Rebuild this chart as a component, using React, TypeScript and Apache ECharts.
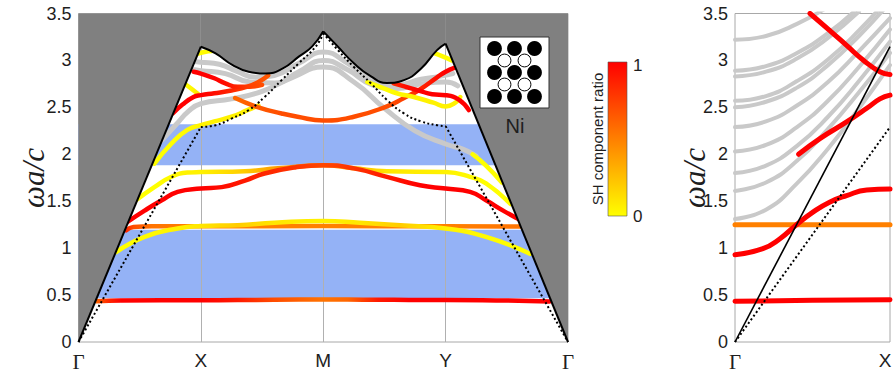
import React, { useEffect, useRef } from 'react';
import * as echarts from 'echarts';

// ---------- axes ----------
const kTicks = [0, 1, 2, 3, 4];
const kLabels = ['Γ', 'X', 'M', 'Y', 'Γ'];
const rightTicks = [0, 1];
const rightLabels = ['Γ', 'X'];
const wMin = 0;
const wMax = 3.5;
const wStep = 0.5;

// ---------- band gaps (blue) ----------
const gapLow = [0.467, 1.197];
const gapHigh = [1.884, 2.32];

// ---------- light line (boundary of gray region) ----------
const lightGX = [[0, 0], [1, 3.146]];
const lightXM = [[1, 3.146], [1.12, 3.075], [1.26, 2.95], [1.39, 2.88], [1.53, 2.86], [1.67, 2.915], [1.8, 3.04], [1.91, 3.15], [2, 3.31]];
const lightMY = [[2, 3.31], [2.12, 3.146], [2.25, 2.97], [2.39, 2.83], [2.52, 2.76], [2.66, 2.79], [2.8, 2.915], [2.93, 3.11], [3, 3.18]];
const lightYG = [[3, 3.18], [4, 0]];

// ---------- dotted line ----------
const dotGX = [[0, 0], [1, 2.29]];
const dotXM = [[1, 2.29], [1.12, 2.31], [1.25, 2.38], [1.39, 2.47], [1.52, 2.61], [1.66, 2.79], [1.8, 2.97], [1.94, 3.15], [2, 3.29]];
const dotMY = [[2, 3.29], [2.12, 3.11], [2.25, 2.93], [2.39, 2.755], [2.52, 2.58], [2.66, 2.435], [2.8, 2.35], [2.93, 2.31], [3, 2.3]];
const dotYG = [[3, 2.3], [4, 0]];

// ---------- left panel: non-SH (gray) bands ----------
const grayA = [[0.93, 2.99], [1, 2.98], [1.15, 2.96], [1.3, 2.88], [1.45, 2.82], [1.6, 2.84], [1.8, 2.97], [2, 3.09], [2.2, 2.97], [2.4, 2.79], [2.6, 2.74], [2.8, 2.8], [2.95, 2.83], [3.06, 2.86]];
const grayB = [[0.95, 2.9], [1, 2.89], [1.2, 2.86], [1.4, 2.77], [1.6, 2.76], [1.8, 2.88], [2, 3.0], [2.2, 2.9], [2.4, 2.74], [2.6, 2.7], [2.8, 2.75], [3, 2.77], [3.1, 2.73]];
const grayC = [[0.68, 2.15], [0.8, 2.32], [0.9, 2.46], [1, 2.54], [1.25, 2.59], [1.5, 2.67], [1.75, 2.82], [2, 2.93], [2.25, 2.77], [2.5, 2.49], [2.75, 2.25], [3, 2.11], [3.15, 2.05], [3.25, 1.98]];

// ---------- left panel: SH bands [k, ωa/c, SH ratio] ----------
const bandLowRed = [[0.145, 0.435, 0.6], [0.25, 0.44, 0.85], [0.35, 0.442, 1], [1, 0.445, 1], [1.3, 0.447, 0.9], [1.6, 0.45, 0.7], [2, 0.452, 0.55], [2.2, 0.452, 0.6], [2.45, 0.45, 0.9], [2.7, 0.448, 1], [3.3, 0.445, 1], [3.85, 0.432, 1]];
const bandFlatOrange = [[0.39, 1.19, 0.85], [0.45, 1.225, 0.7], [0.6, 1.233, 0.55], [1, 1.233, 0.5], [2, 1.235, 0.5], [3, 1.233, 0.5], [3.61, 1.23, 0.55]];
const bandCrossYellow = [[0.31, 0.96, 0], [0.54, 1.12, 0.02], [0.81, 1.21, 0.05], [1, 1.235, 0.1], [1.3, 1.245, 0.2], [1.6, 1.27, 0.1], [2, 1.29, 0.05], [2.3, 1.27, 0.1], [2.63, 1.243, 0.2], [3, 1.21, 0.05], [3.33, 1.12, 0.02], [3.69, 0.94, 0]];
const bandMidRed = [[0.4, 1.28, 1], [0.54, 1.4, 1], [0.68, 1.51, 1], [0.81, 1.6, 1], [1, 1.635, 1], [1.17, 1.65, 0.95], [1.36, 1.72, 0.9], [1.52, 1.795, 0.85], [1.77, 1.86, 0.8], [2, 1.884, 0.72], [2.25, 1.85, 0.8], [2.52, 1.76, 0.9], [2.79, 1.67, 1], [3, 1.635, 1], [3.2, 1.6, 1], [3.33, 1.51, 1], [3.47, 1.4, 1], [3.61, 1.3, 1]];
const bandMidYellow = [[0.47, 1.51, 0], [0.62, 1.65, 0], [0.76, 1.76, 0.02], [0.89, 1.805, 0.05], [1, 1.81, 0.05], [1.36, 1.82, 0.2], [1.63, 1.85, 0.4], [2, 1.884, 0.55], [2.25, 1.85, 0.3], [2.52, 1.82, 0.1], [3, 1.81, 0.05], [3.2, 1.76, 0.02], [3.33, 1.69, 0], [3.53, 1.47, 0]];
const bandUpperYellow = [[0.62, 1.9, 0], [0.76, 2.115, 0], [0.89, 2.26, 0.02], [1, 2.31, 0.05], [1.11, 2.35, 0.05], [1.25, 2.4, 0.05], [1.38, 2.47, 0.05], [1.47, 2.52, 0.1]];
const bandUpperOrange = [[1.28, 2.6, 0.6], [1.47, 2.5, 0.65], [1.66, 2.435, 0.7], [1.79, 2.4, 0.7], [2, 2.36, 0.7], [2.25, 2.4, 0.7], [2.52, 2.51, 0.7], [2.66, 2.6, 0.75], [2.79, 2.69, 0.85], [2.93, 2.82, 0.95], [3, 2.88, 1], [3.07, 2.92, 1]];
const bandDipRed = [[2.575, 2.755, 0.85], [2.67, 2.72, 0.95], [2.78, 2.68, 1], [2.89, 2.64, 1], [3, 2.63, 1], [3.11, 2.58, 1], [3.19, 2.47, 1]];
const bandDipYellow = [[2.36, 2.77, 0], [2.5, 2.7, 0], [2.6, 2.65, 0.02], [2.74, 2.61, 0.05], [2.9, 2.55, 0.05], [3, 2.51, 0.05], [3.08, 2.55, 0.05], [3.12, 2.61, 0.05]];
const bandTopYellowY = [[2.9, 3.08, 0], [2.98, 3.04, 0.02], [3.05, 3.0, 0]];
const bandTopYellowX = [[0.97, 3.07, 0], [1.03, 3.09, 0.02], [1.09, 3.1, 0]];
const bandShortYellowX = [[0.86, 2.76, 0], [0.92, 2.7, 0.02], [0.98, 2.64, 0.1]];
const bandRedX1 = [[0.94, 2.88, 1], [1, 2.86, 1], [1.11, 2.81, 1], [1.2, 2.755, 0.95], [1.3, 2.72, 0.85], [1.4, 2.72, 0.75], [1.5, 2.74, 0.7]];
const bandRedX2 = [[0.77, 2.435, 1], [0.85, 2.53, 1], [0.94, 2.61, 1], [1, 2.63, 1], [1.11, 2.65, 0.95], [1.25, 2.68, 0.85], [1.38, 2.72, 0.75], [1.47, 2.77, 0.7], [1.55, 2.84, 0.65]];
const bandTailYellow = [[3.22, 2.0, 0], [3.33, 1.88, 0], [3.46, 1.7, 0]];

// ---------- right panel ----------
const rLight = [[0, 0], [1, 3.146]];
const rDot = [[0, 0], [1, 2.29]];
const rGray1 = [[0, 1.31], [0.2, 1.41], [0.4, 1.69], [0.6, 2.06], [0.8, 2.49], [1, 2.95]];
const rGray2 = [[0, 1.61], [0.2, 1.7], [0.4, 1.93], [0.6, 2.27], [0.8, 2.66], [1, 3.08]];
const rGray3 = [[0, 1.8], [0.2, 1.88], [0.4, 2.09], [0.6, 2.4], [0.8, 2.78], [1, 3.2]];
const rGray4 = [[0, 2.03], [0.2, 2.1], [0.4, 2.29], [0.6, 2.57], [0.8, 2.93], [1, 3.33]];
const rGray5 = [[0, 2.29], [0.2, 2.35], [0.4, 2.52], [0.6, 2.77], [0.8, 3.1], [1, 3.45]];
const rGray6 = [[0, 2.5], [0.2, 2.56], [0.4, 2.71], [0.6, 2.95], [0.8, 3.26], [1, 3.62]];
const rGray7 = [[0, 2.57], [0.2, 2.62], [0.4, 2.78], [0.6, 3.01], [0.8, 3.32], [1, 3.68]];
const rGray8 = [[0, 2.83], [0.2, 2.88], [0.4, 3.02], [0.6, 3.24], [0.8, 3.52]];
const rGray9 = [[0, 2.89], [0.2, 2.94], [0.4, 3.08], [0.6, 3.29], [0.8, 3.57]];
const rGray10 = [[0, 3.22], [0.2, 3.26], [0.4, 3.39], [0.6, 3.57]];
const rLowRed = [[0, 0.434, 1], [0.5, 0.445, 1], [1, 0.451, 1]];
const rFlatOrange = [[0, 1.25, 0.5], [0.5, 1.25, 0.5], [1, 1.25, 0.5]];
const rMidRed = [[0, 0.93, 1], [0.18, 0.995, 1], [0.29, 1.1, 1], [0.39, 1.24, 1], [0.505, 1.386, 1], [0.61, 1.49, 1], [0.72, 1.56, 1], [0.85, 1.62, 1], [1, 1.63, 1]];
const rUpRed = [[0.41, 2.0, 1], [0.55, 2.17, 1], [0.72, 2.345, 1], [0.85, 2.49, 1], [0.935, 2.59, 1], [1, 2.63, 1]];
const rTopRed = [[0.484, 3.5, 1], [0.61, 3.32, 1], [0.72, 3.16, 1], [0.83, 3.0, 1], [0.935, 2.88, 1], [1, 2.85, 1]];

// ---------- styles ----------
const GRAY_FILL = '#808080';
const BLUE = '#94b2f6';
const CURVE_GRAY = '#c9c9c9';
const TEXT = '#1e1e1e';
const SANS = '"Liberation Sans", Arial, Helvetica, sans-serif';
const SERIF = '"Liberation Serif", "Times New Roman", serif';
const SMOOTH = 0.5;

const ratioColor = (r: number) => `rgb(255,${Math.round(255 * (1 - r))},0)`;

function coloredLine(pts: number[][], gi: number, width: number, z: number) {
  const ks = pts.map((p) => p[0]);
  const kmin = Math.min(...ks);
  const kmax = Math.max(...ks);
  const rs = pts.map((p) => p[2]);
  const constant = rs.every((r) => r === rs[0]);
  const color = constant
    ? ratioColor(rs[0])
    : new echarts.graphic.LinearGradient(
        0, 0, 1, 0,
        pts.map((p) => ({ offset: (p[0] - kmin) / (kmax - kmin), color: ratioColor(p[2]) }))
      );
  return {
    type: 'line',
    xAxisIndex: gi,
    yAxisIndex: gi,
    data: pts.map((p) => [p[0], p[1]]),
    smooth: SMOOTH,
    showSymbol: false,
    silent: true,
    z,
    lineStyle: { width, color, cap: 'round', join: 'round' },
  };
}

function plainLine(pts: number[][], gi: number, opts: any) {
  return {
    type: 'line',
    xAxisIndex: gi,
    yAxisIndex: gi,
    data: pts,
    smooth: opts.smooth ?? 0,
    showSymbol: false,
    silent: true,
    z: opts.z,
    lineStyle: opts.lineStyle,
    areaStyle: opts.areaStyle,
  };
}

const tickLabel = (ticks: number[], labels: string[], shiftLast: boolean) => (v: number) => {
  const i = ticks.findIndex((t) => Math.abs(t - v) < 1e-9);
  if (i < 0) return '';
  const t = labels[i];
  if (t === 'Γ') return `{g|${t}}`;
  if (shiftLast && i === ticks.length - 1) return `{e|${t}}`;
  return `{s|${t}}`;
};

const xLabelRich = {
  g: { fontFamily: SERIF, fontSize: 21, color: TEXT },
  s: { fontFamily: SANS, fontSize: 19, color: TEXT },
  e: { fontFamily: SANS, fontSize: 19, color: TEXT, padding: [0, 10, 0, 0] },
};

export default function App() {
  const ref = useRef<HTMLDivElement>(null);

  useEffect(() => {
    if (!ref.current) return;
    const chart = echarts.init(ref.current, undefined, { renderer: 'svg' });

    const gridBase = {
      show: true,
      backgroundColor: '#ffffff',
      borderColor: '#a8a8a8',
      borderWidth: 1,
      containLabel: false,
      outerBoundsMode: 'none',
    };

    const yAxisBase = (gi: number) => ({
      gridIndex: gi,
      type: 'value',
      min: wMin,
      max: wMax,
      interval: wStep,
      axisLine: { show: false },
      axisTick: { show: false },
      splitLine: { show: false },
      axisLabel: { fontFamily: SANS, fontSize: 18, color: TEXT, margin: 7 },
    });

    const series: any[] = [];

    // blue band gaps + vertical symmetry-point lines
    [gapLow, gapHigh].forEach((g, idx) => {
      series.push({
        type: 'line',
        xAxisIndex: 0,
        yAxisIndex: 0,
        data: [[kTicks[0], g[1]], [kTicks[kTicks.length - 1], g[1]]],
        showSymbol: false,
        silent: true,
        z: 1,
        lineStyle: { width: 0, color: BLUE },
        areaStyle: { color: BLUE, opacity: 1, origin: g[0] },
        markLine:
          idx === 0
            ? {
                z: 2,
                silent: true,
                symbol: 'none',
                label: { show: false },
                lineStyle: { color: '#b0b0b0', width: 1, type: 'solid' },
                data: kTicks.slice(1, -1).map((k) => ({ xAxis: k })),
              }
            : undefined,
      });
    });

    // gray (non-SH) bands
    [grayA, grayB, grayC].forEach((g) =>
      series.push(plainLine(g, 0, { smooth: SMOOTH, z: 3, lineStyle: { width: 5, color: CURVE_GRAY, cap: 'round' } }))
    );

    // SH bands
    [
      bandLowRed, bandFlatOrange, bandCrossYellow, bandMidYellow, bandMidRed, bandUpperYellow,
      bandUpperOrange, bandDipYellow, bandDipRed, bandTopYellowY, bandTopYellowX, bandShortYellowX,
      bandRedX2, bandRedX1, bandTailYellow,
    ].forEach((b) => series.push(coloredLine(b, 0, 4.5, 4)));

    // dotted line
    [dotGX, dotXM, dotMY, dotYG].forEach((d, i) =>
      series.push(
        plainLine(d, 0, {
          smooth: i === 1 || i === 2 ? SMOOTH : 0,
          z: 5,
          lineStyle: { width: 2, color: '#000', type: [2, 2.5] },
        })
      )
    );

    // light line + gray region above it
    [lightGX, lightXM, lightMY, lightYG].forEach((d, i) =>
      series.push(
        plainLine(d, 0, {
          smooth: i === 1 || i === 2 ? SMOOTH : 0,
          z: 6,
          lineStyle: { width: 2, color: '#000' },
          areaStyle: { color: GRAY_FILL, opacity: 1, origin: 'end' },
        })
      )
    );

    // right panel
    [rGray1, rGray2, rGray3, rGray4, rGray5, rGray6, rGray7, rGray8, rGray9, rGray10].forEach((g) =>
      series.push(plainLine(g, 1, { smooth: SMOOTH, z: 3, lineStyle: { width: 4, color: CURVE_GRAY, cap: 'round' } }))
    );
    [rLowRed, rFlatOrange, rMidRed, rUpRed, rTopRed].forEach((b) => series.push(coloredLine(b, 1, 5, 4)));
    series.push(plainLine(rLight, 1, { z: 5, lineStyle: { width: 1.6, color: '#000' } }));
    series.push(plainLine(rDot, 1, { z: 5, lineStyle: { width: 2, color: '#000', type: [2, 2.5] } }));

    // inset lattice
    const insetX = 480;
    const insetY = 37;
    const insetW = 69;
    const insetH = 71;
    const lattice: any[] = [];
    for (let i = 0; i < 3; i++)
      for (let j = 0; j < 3; j++)
        lattice.push({
          type: 'circle',
          shape: { cx: insetX + 14.5 + 20 * i, cy: insetY + 11.5 + 24 * j, r: 7.4 },
          style: { fill: '#000' },
          z: 100,
        });
    for (let i = 0; i < 2; i++)
      for (let j = 0; j < 2; j++)
        lattice.push({
          type: 'circle',
          shape: { cx: insetX + 24.5 + 20 * i, cy: insetY + 23.5 + 24 * j, r: 6.4 },
          style: { fill: '#fff', stroke: '#000', lineWidth: 1 },
          z: 101,
        });

    chart.setOption({
      animation: false,
      backgroundColor: '#ffffff',
      grid: [
        { ...gridBase, left: 78.5, top: 13.5, width: 489.5, height: 328.5 },
        { ...gridBase, left: 735, top: 13.5, width: 155, height: 328.5 },
      ],
      xAxis: [
        {
          gridIndex: 0,
          type: 'value',
          min: kTicks[0],
          max: kTicks[kTicks.length - 1],
          interval: 1,
          axisLine: { show: false },
          axisTick: { show: false },
          splitLine: { show: false },
          axisLabel: { margin: 9, showMinLabel: true, showMaxLabel: true, formatter: tickLabel(kTicks, kLabels, false), rich: xLabelRich },
        },
        {
          gridIndex: 1,
          type: 'value',
          min: rightTicks[0],
          max: rightTicks[1],
          interval: 1,
          axisLine: { show: false },
          axisTick: { show: false },
          splitLine: { show: false },
          axisLabel: { margin: 9, showMinLabel: true, showMaxLabel: true, formatter: tickLabel(rightTicks, rightLabels, true), rich: xLabelRich },
        },
      ],
      yAxis: [yAxisBase(0), yAxisBase(1)],
      series,
      graphic: [
        {
          type: 'text',
          x: 33,
          y: 178,
          rotation: Math.PI / 2,
          style: { text: 'ωa/c', font: `italic 31px ${SERIF}`, fill: TEXT, textAlign: 'center', textVerticalAlign: 'middle' },
          z: 100,
        },
        {
          type: 'text',
          x: 694,
          y: 178,
          rotation: Math.PI / 2,
          style: { text: 'ωa/c', font: `italic 31px ${SERIF}`, fill: TEXT, textAlign: 'center', textVerticalAlign: 'middle' },
          z: 100,
        },
        // colorbar
        {
          type: 'rect',
          shape: { x: 608, y: 62, width: 19, height: 154 },
          style: {
            fill: new echarts.graphic.LinearGradient(0, 0, 0, 1, [
              { offset: 0, color: ratioColor(1) },
              { offset: 1, color: ratioColor(0) },
            ]),
            stroke: '#555',
            lineWidth: 0.6,
          },
          z: 100,
        },
        {
          type: 'text',
          x: 633,
          y: 65,
          style: { text: '1', font: `17px ${SANS}`, fill: TEXT, textAlign: 'left', textVerticalAlign: 'middle' },
          z: 100,
        },
        {
          type: 'text',
          x: 633,
          y: 216,
          style: { text: '0', font: `17px ${SANS}`, fill: TEXT, textAlign: 'left', textVerticalAlign: 'middle' },
          z: 100,
        },
        {
          type: 'text',
          x: 597,
          y: 139,
          rotation: Math.PI / 2,
          style: { text: 'SH component ratio', font: `15px ${SANS}`, fill: TEXT, textAlign: 'center', textVerticalAlign: 'middle' },
          z: 100,
        },
        // inset
        {
          type: 'rect',
          shape: { x: insetX, y: insetY, width: insetW, height: insetH },
          style: { fill: '#fff', stroke: '#333', lineWidth: 1 },
          z: 99,
        },
        ...lattice,
        {
          type: 'text',
          x: 515,
          y: 126,
          style: { text: 'Ni', font: `20px ${SANS}`, fill: TEXT, textAlign: 'center', textVerticalAlign: 'middle' },
          z: 100,
        },
      ],
    });

    return () => chart.dispose();
  }, []);

  return (
    <div
      ref={ref}
      style={{ position: 'fixed', left: 0, top: 0, width: 894, height: 376 }}
    />
  );
}
